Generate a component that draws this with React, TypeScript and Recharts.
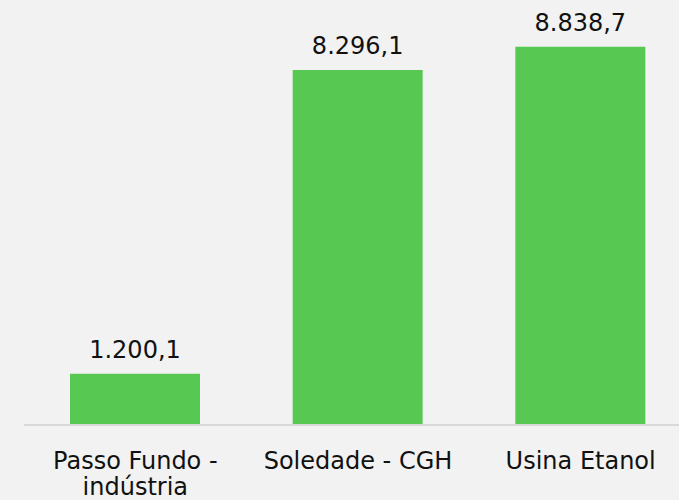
import React from "react";
import { BarChart, Bar, XAxis, YAxis, LabelList } from "recharts";

// values
const categories = ["Passo Fundo - indústria", "Soledade - CGH", "Usina Etanol"];
const values = [1200.1, 8296.1, 8838.7];

const data = categories.map((name, i) => ({ name, value: values[i] }));

const FONT = "Verdana, 'DejaVu Sans', sans-serif";

const fmt = (v: number) =>
  v.toLocaleString("pt-BR", { minimumFractionDigits: 1, maximumFractionDigits: 1 });

// greedy word wrap on character count
const wrap = (s: string, max: number) => {
  const lines: string[] = [];
  let cur = "";
  s.split(" ").forEach((w) => {
    const next = cur ? cur + " " + w : w;
    if (next.length > max && cur) {
      lines.push(cur);
      cur = w;
    } else {
      cur = next;
    }
  });
  if (cur) lines.push(cur);
  return lines;
};

const CategoryTick = (props: any) => {
  const { x, y, payload } = props;
  const lines = wrap(String(payload.value), 16);
  return (
    <text
      x={x}
      y={y + 19}
      textAnchor="middle"
      fontSize={24}
      fontFamily={FONT}
      fill="#111"
    >
      {lines.map((l, i) => (
        <tspan key={i} x={x} dy={i === 0 ? "0.71em" : 26}>
          {l}
        </tspan>
      ))}
    </text>
  );
};

const App: React.FC = () => {
  return (
    <div
      style={{
        position: "absolute",
        left: 0,
        top: 0,
        width: 679,
        height: 500,
        overflow: "hidden",
        background: "#f2f2f2",
      }}
    >
      <div style={{ position: "absolute", left: 0, top: -3 }}>
        <BarChart
          width={692}
          height={503}
          data={data}
          margin={{ top: 0, right: 0, bottom: 0, left: 24 }}
        >
          <XAxis
            dataKey="name"
            height={75}
            axisLine={{ stroke: "#d9d9d9", strokeWidth: 2 }}
            tickLine={false}
            interval={0}
            tick={<CategoryTick />}
          />
          <YAxis hide width={0} domain={[0, 10000]} />
          <Bar dataKey="value" fill="#57c953" barSize={130} isAnimationActive={false}>
            <LabelList
              dataKey="value"
              position="top"
              offset={16}
              formatter={(v: number) => fmt(v)}
              style={{ fontSize: 24, fontFamily: FONT, fill: "#111" }}
            />
          </Bar>
        </BarChart>
      </div>
    </div>
  );
};

export default App;
